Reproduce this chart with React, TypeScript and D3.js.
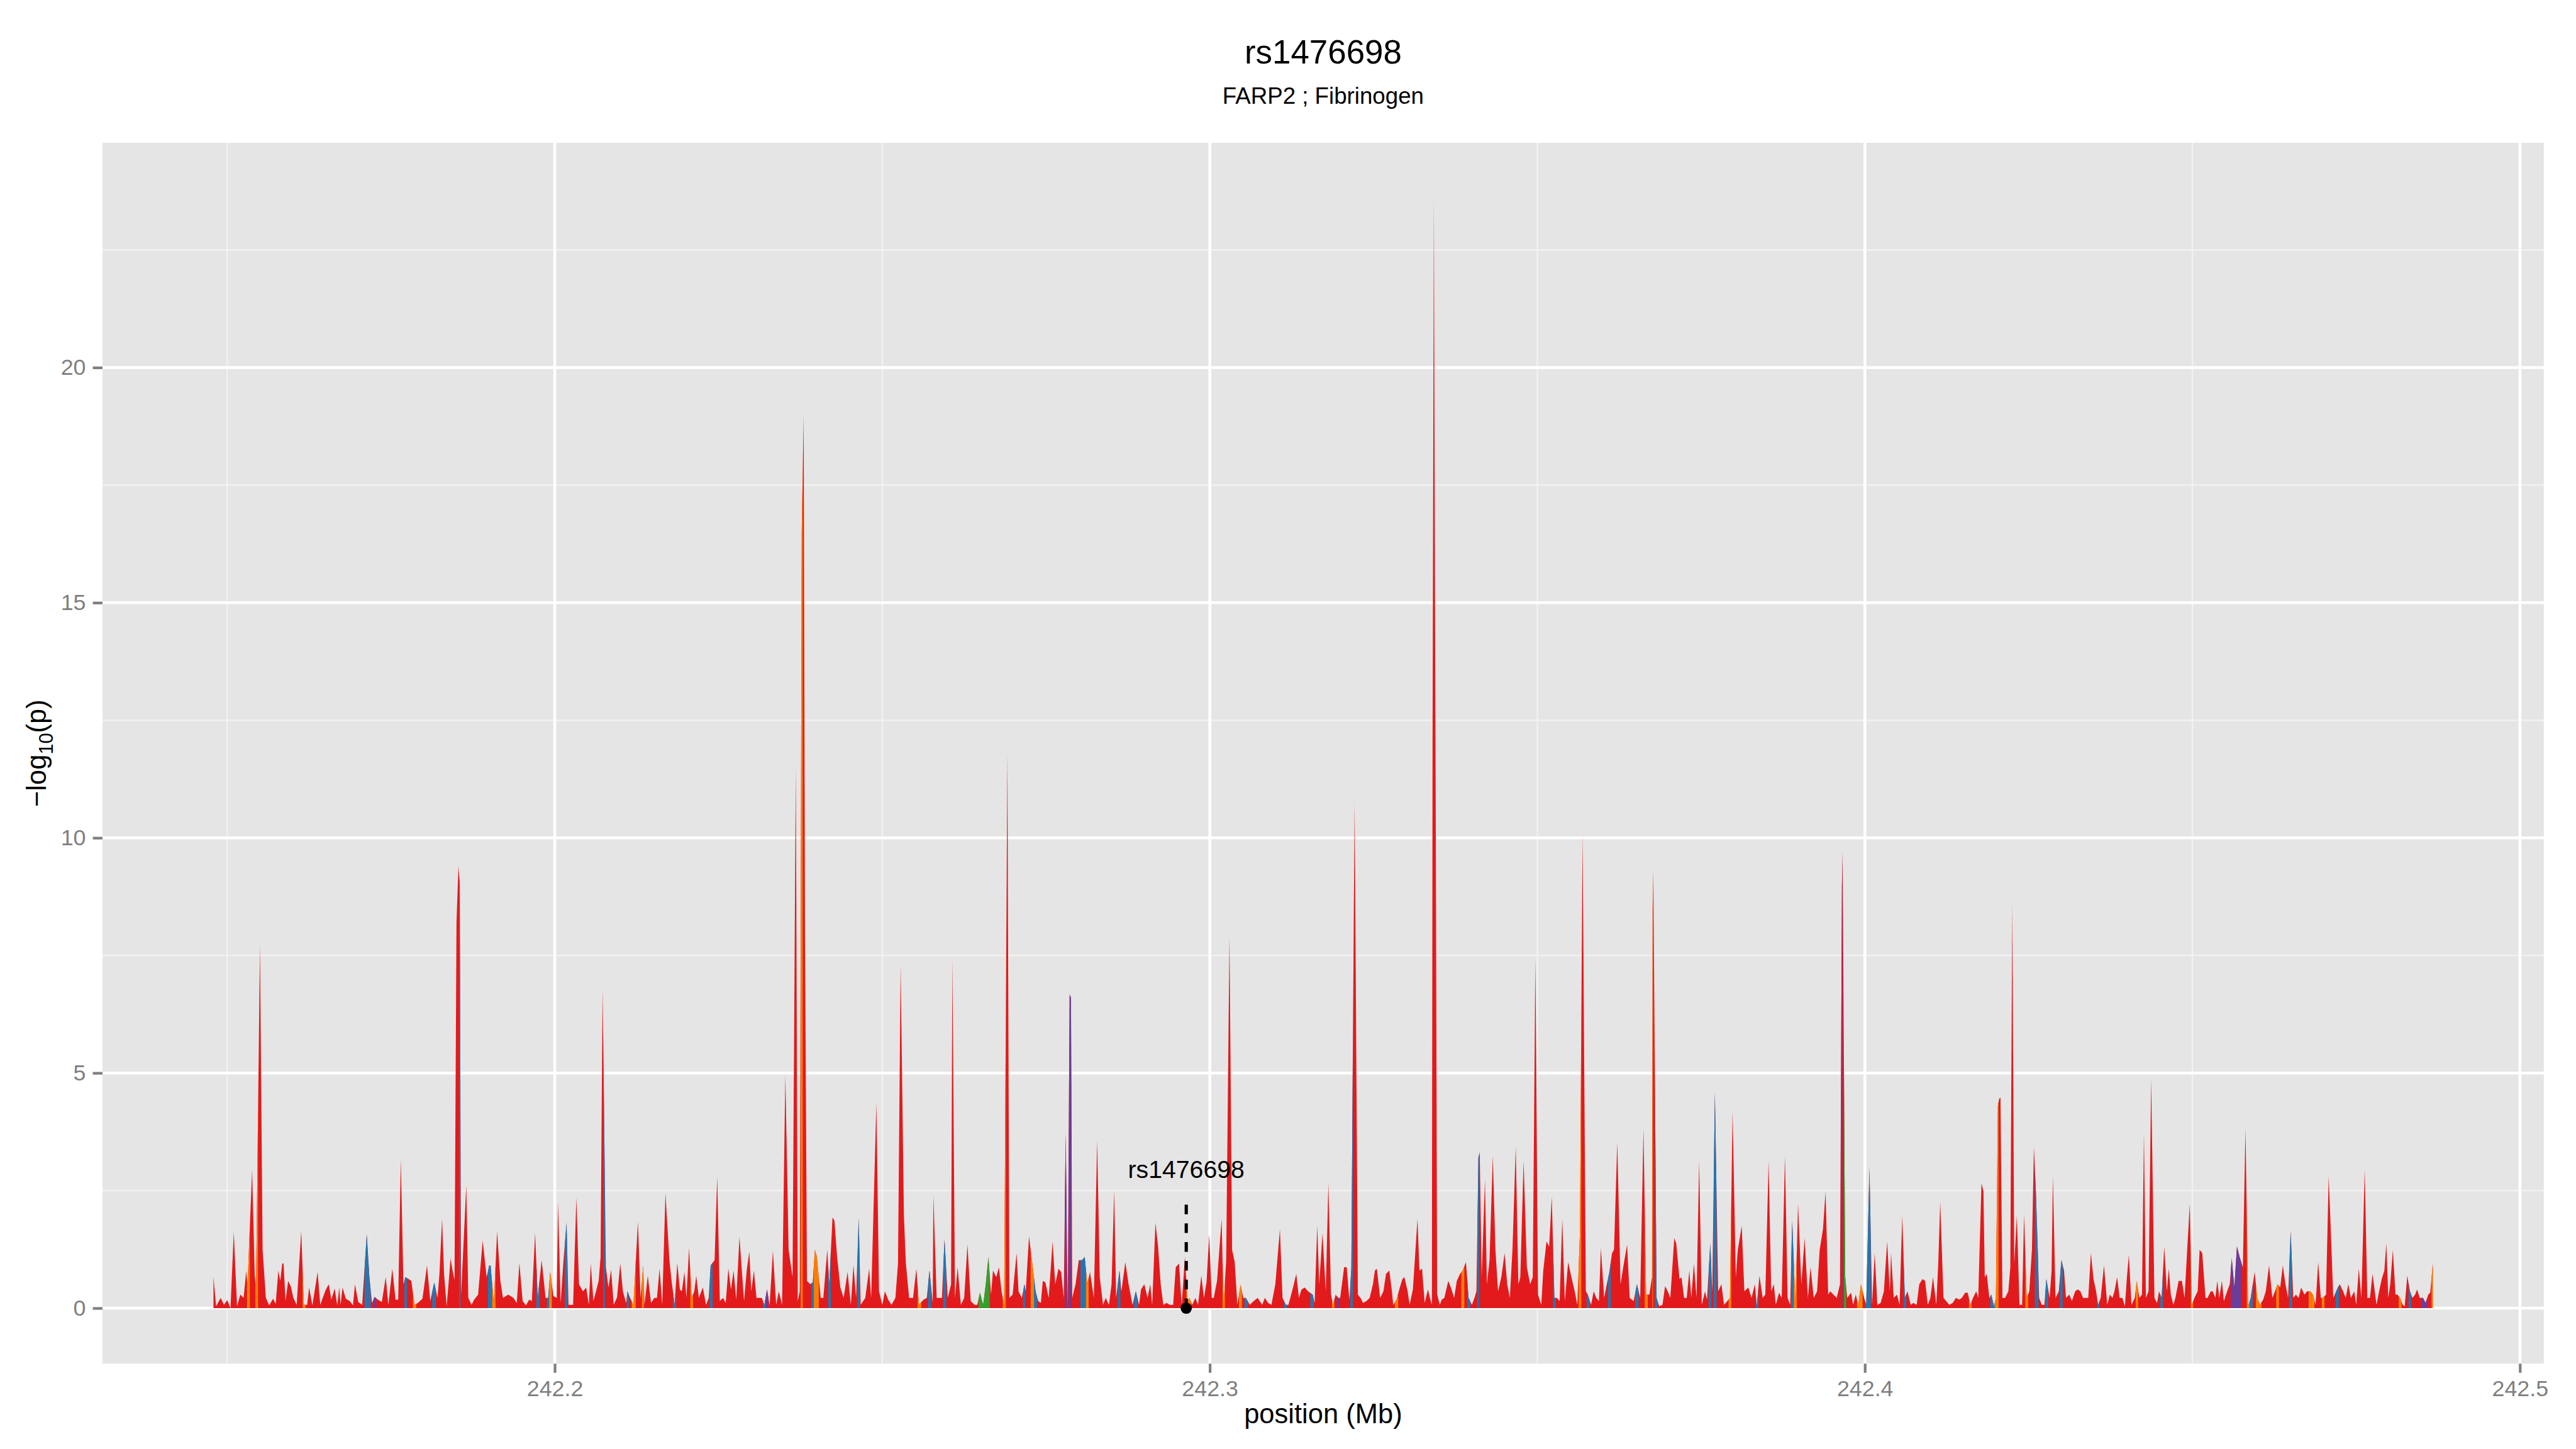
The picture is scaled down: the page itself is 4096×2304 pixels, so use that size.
import React, { useEffect, useRef } from 'react';
import * as d3 from 'd3';

// [position (Mb), -log10(p), class]; class defaults to "r"
type Snp = [number, number, string?];

const snpsA: Snp[] = [
  [242.1479, 0.67], [242.1483, 0.04], [242.1490, 0.22], [242.1495, 0.07], [242.1500, 0.17], [242.1505, 0.0],
  [242.1510, 1.62], [242.1515, 0.04], [242.1520, 0.29], [242.1525, 0.22], [242.1529, 0.79], [242.1531, 0.5, 'o'],
  [242.1538, 2.95], [242.1542, 0.7], [242.1544, 0.45, 'o'], [242.1550, 7.74], [242.1554, 1.24], [242.1559, 0.22],
  [242.1564, 0.06], [242.1570, 0.2], [242.1574, 0.09], [242.1578, 0.8], [242.1581, 0.58], [242.1584, 0.95],
  [242.1586, 0.95], [242.1589, 0.15], [242.1593, 0.58], [242.1597, 0.47], [242.1601, 0.22], [242.1606, 0.07],
  [242.1613, 1.64], [242.1617, 0.07, 'o'], [242.1622, 0.07], [242.1625, 0.44], [242.1630, 0.06], [242.1638, 0.77],
  [242.1642, 0.07], [242.1650, 0.38], [242.1655, 0.51], [242.1659, 0.18], [242.1664, 0.42], [242.1668, 0.06],
  [242.1671, 0.44], [242.1673, 0.07], [242.1676, 0.44], [242.1681, 0.2], [242.1687, 0.15], [242.1692, 0.06],
  [242.1695, 0.51], [242.1700, 0.13], [242.1706, 0.07], [242.1713, 1.57, 'b'], [242.1717, 0.66, 'b'], [242.1721, 0.11],
  [242.1725, 0.24, 'p'], [242.1730, 0.18], [242.1736, 0.13], [242.1742, 0.66], [242.1746, 0.07], [242.1752, 0.84],
  [242.1757, 0.18], [242.1761, 0.18], [242.1765, 3.17], [242.1769, 0.51], [242.1772, 0.66, 'b'], [242.1777, 0.62],
  [242.1781, 0.58], [242.1786, 0.07, 'o'], [242.1791, 0.11], [242.1798, 0.2], [242.1805, 0.91], [242.1810, 0.15],
  [242.1816, 0.55, 'b'], [242.1821, 0.22], [242.1824, 0.73], [242.1828, 1.9], [242.1831, 0.73], [242.1835, 0.04],
  [242.1841, 1.06], [242.1844, 0.8], [242.1847, 0.6], [242.1850, 8.2], [242.1853, 9.4], [242.1855, 9.0, 'b'],
  [242.1857, 0.29], [242.1865, 2.62], [242.1868, 0.22], [242.1873, 0.07], [242.1877, 0.18], [242.1883, 0.29],
  [242.1890, 1.44], [242.1896, 0.66], [242.1900, 0.91, 'b'], [242.1902, 0.91, 'b'], [242.1907, 0.11, 'o'], [242.1912, 1.64],
  [242.1917, 0.58], [242.1921, 0.22], [242.1929, 0.29], [242.1937, 0.22], [242.1942, 0.11], [242.1946, 0.96],
  [242.1951, 0.15], [242.1956, 0.06], [242.1961, 0.18], [242.1965, 0.15], [242.1970, 1.6], [242.1974, 0.22, 'b'],
  [242.1980, 1.02], [242.1986, 0.22], [242.1990, 0.22, 'b'], [242.1993, 0.77, 'o'], [242.1998, 0.26], [242.2003, 0.22],
  [242.2005, 2.26], [242.2009, 0.11], [242.2013, 0.95], [242.2018, 1.82, 'b'], [242.2021, 0.07], [242.2028, 0.07],
  [242.2033, 2.35], [242.2037, 0.51], [242.2043, 0.36], [242.2048, 0.44], [242.2052, 0.07], [242.2055, 0.95],
  [242.2059, 0.15], [242.2063, 0.36], [242.2067, 0.58], [242.2070, 1.09], [242.2073, 6.78], [242.2075, 4.5, 'b'],
  [242.2078, 0.87], [242.2082, 0.44], [242.2086, 0.82], [242.2090, 0.07], [242.2095, 0.23], [242.2100, 0.95],
  [242.2104, 0.36], [242.2109, 0.11], [242.2111, 0.36, 'b'], [242.2115, 0.22], [242.2120, 0.07, 'o'], [242.2127, 1.84],
  [242.2131, 0.22], [242.2135, 0.91, 'o'], [242.2137, 0.07], [242.2142, 0.69], [242.2147, 0.11], [242.2152, 0.22],
  [242.2156, 0.22], [242.2160, 0.84], [242.2164, 0.07], [242.2169, 2.44], [242.2175, 1.02], [242.2178, 0.62],
  [242.2183, 0.07, 'b'], [242.2187, 0.96], [242.2191, 0.4], [242.2194, 0.36], [242.2198, 0.77], [242.2201, 0.22],
  [242.2205, 1.28], [242.2209, 0.22, 'o'], [242.2213, 0.36], [242.2216, 0.69], [242.2220, 0.22], [242.2226, 0.44],
  [242.2231, 0.07], [242.2235, 0.22], [242.2238, 0.91, 'b'], [242.2244, 1.02], [242.2248, 2.8], [242.2252, 0.15],
  [242.2257, 0.22], [242.2261, 0.11], [242.2265, 0.84], [242.2269, 0.4], [242.2273, 0.8], [242.2277, 0.18],
  [242.2282, 1.52], [242.2285, 0.91], [242.2289, 0.15], [242.2293, 0.8], [242.2297, 1.2], [242.2300, 0.36],
  [242.2304, 0.8], [242.2308, 0.22], [242.2312, 0.22], [242.2316, 0.22], [242.2320, 0.07, 'b'], [242.2324, 0.4, 'p'],
  [242.2328, 0.06], [242.2333, 1.22], [242.2338, 0.07], [242.2342, 0.36], [242.2347, 0.07], [242.2352, 4.96],
  [242.2357, 1.24], [242.2363, 0.66], [242.2368, 11.5], [242.2371, 0.15], [242.2374, 0.36],
  [242.2377, 16.5, 'o'], [242.2380, 19.0], [242.2382, 8.0],
];

const snpsB: Snp[] = [
  [242.2385, 0.58], [242.2390, 0.51], [242.2394, 0.55, 'b'], [242.2397, 1.24, 'o'], [242.2400, 1.1, 'o'], [242.2406, 0.22],
  [242.2410, 0.22], [242.2416, 1.24], [242.2419, 0.51, 'b'], [242.2424, 1.93], [242.2427, 1.86], [242.2431, 1.09],
  [242.2436, 0.44], [242.2441, 0.22], [242.2447, 0.77], [242.2452, 0.07], [242.2456, 0.91], [242.2460, 0.22],
  [242.2464, 1.91, 'b'], [242.2467, 0.07], [242.2474, 0.22], [242.2480, 0.84], [242.2483, 0.22], [242.2491, 4.37],
  [242.2495, 0.36], [242.2500, 0.07], [242.2504, 0.36], [242.2509, 0.18], [242.2514, 0.07], [242.2520, 0.22],
  [242.2524, 0.95], [242.2528, 7.29], [242.2533, 1.97], [242.2536, 0.95], [242.2541, 0.22], [242.2547, 0.22],
  [242.2552, 0.84], [242.2556, 0.07, 'o'], [242.2563, 0.18], [242.2568, 0.22], [242.2572, 0.8, 'b'], [242.2577, 0.11],
  [242.2578, 2.41], [242.2583, 0.22], [242.2588, 0.22], [242.2591, 0.22], [242.2595, 1.46, 'b'], [242.2600, 0.22],
  [242.2605, 0.51], [242.2607, 7.43], [242.2611, 0.22], [242.2615, 0.87], [242.2620, 0.07], [242.2625, 0.22],
  [242.2630, 1.35], [242.2635, 0.15], [242.2641, 0.07], [242.2645, 0.07], [242.2649, 0.33, 'g'], [242.2654, 0.07, 'g'],
  [242.2658, 0.51, 'g'], [242.2662, 1.09, 'g'], [242.2666, 0.29], [242.2669, 0.8], [242.2674, 0.66], [242.2678, 0.87],
  [242.2682, 0.36], [242.2686, 0.07, 'o'], [242.2691, 11.8], [242.2694, 0.22], [242.2699, 0.29], [242.2705, 1.17],
  [242.2708, 0.36], [242.2713, 0.22], [242.2717, 0.51, 'b'], [242.2719, 0.36], [242.2724, 1.53], [242.2729, 0.95, 'o'],
  [242.2734, 0.36, 'b'], [242.2738, 0.15], [242.2742, 0.11], [242.2745, 0.58], [242.2749, 0.55], [242.2754, 0.22],
  [242.2760, 1.42], [242.2764, 0.51], [242.2769, 0.84], [242.2773, 0.77], [242.2777, 0.22], [242.2780, 3.72, 'p'],
  [242.2783, 0.04], [242.2786, 6.67, 'p'], [242.2788, 6.6, 'p'], [242.2790, 0.22], [242.2795, 0.51], [242.2800, 1.02],
  [242.2805, 1.02, 'b'], [242.2809, 1.09, 'b'], [242.2813, 0.51, 'o'], [242.2817, 0.77], [242.2823, 0.22], [242.2828, 3.57],
  [242.2832, 0.66], [242.2837, 0.07], [242.2841, 0.22], [242.2846, 0.07], [242.2850, 0.51], [242.2854, 2.51],
  [242.2857, 0.22], [242.2862, 0.8, 'b'], [242.2865, 0.36], [242.2871, 0.98], [242.2876, 0.51], [242.2882, 0.07],
  [242.2887, 0.36, 'b'], [242.2892, 0.07], [242.2895, 0.4], [242.2900, 0.51], [242.2905, 0.22], [242.2909, 0.51],
  [242.2912, 0.07], [242.2917, 1.82], [242.2921, 1.31], [242.2925, 0.51], [242.2929, 0.07], [242.2934, 0.11],
  [242.2939, 0.07], [242.2944, 0.07], [242.2948, 0.87], [242.2953, 0.95], [242.2957, 0.07], [242.2962, 1.09],
  [242.2966, 0.15, 'o'], [242.2969, 0.22, 'o'], [242.2973, 0.07], [242.2978, 0.22], [242.2982, 0.07], [242.2987, 0.69],
  [242.2991, 0.22], [242.2995, 0.55], [242.2999, 1.57], [242.3003, 0.22], [242.3006, 0.22], [242.3011, 0.58],
  [242.3018, 1.9], [242.3021, 0.07, 'o'], [242.3025, 1.02], [242.3030, 7.91], [242.3034, 1.24], [242.3038, 0.98],
  [242.3042, 0.07], [242.3047, 0.5, 'o'], [242.3051, 0.22], [242.3055, 0.22, 'b'], [242.3061, 0.07], [242.3067, 0.15],
  [242.3073, 0.22], [242.3080, 0.07], [242.3084, 0.22], [242.3089, 0.11], [242.3094, 0.07], [242.3100, 0.51],
  [242.3107, 1.68], [242.3111, 0.22], [242.3116, 0.07, 'b'], [242.3120, 0.07], [242.3127, 0.44], [242.3132, 0.73],
  [242.3136, 0.22], [242.3140, 0.4], [242.3145, 0.44], [242.3150, 0.36], [242.3157, 0.29, 'b'], [242.3160, 0.11],
  [242.3164, 1.75], [242.3167, 0.51], [242.3172, 1.6], [242.3177, 0.36], [242.3181, 2.66], [242.3185, 0.29],
  [242.3188, 0.07, 'o'], [242.3192, 0.29], [242.3196, 0.22, 'p'], [242.3199, 0.22], [242.3205, 0.87], [242.3209, 0.87],
  [242.3213, 0.18], [242.3216, 0.84, 'b'], [242.3221, 10.75], [242.3226, 0.29], [242.3230, 0.22], [242.3234, 0.11],
  [242.3239, 0.15], [242.3244, 0.22], [242.3249, 0.51], [242.3252, 0.8], [242.3255, 0.84], [242.3260, 0.22],
  [242.3265, 0.36], [242.3269, 0.73], [242.3274, 0.8], [242.3278, 0.36],
];

const snpsC: Snp[] = [
  [242.3280, 0.07], [242.3285, 0.18, 'o'], [242.3290, 0.44], [242.3294, 0.62], [242.3297, 0.66], [242.3302, 0.36],
  [242.3305, 0.07], [242.3310, 0.4], [242.3317, 1.9], [242.3320, 0.8], [242.3324, 0.84], [242.3328, 0.11],
  [242.3333, 0.4], [242.3336, 0.22], [242.3339, 0.07], [242.3340, 12.0], [242.3342, 23.6], [242.3344, 14.0],
  [242.3345, 10.0], [242.3347, 0.3], [242.3351, 0.07], [242.3354, 0.18], [242.3358, 0.22], [242.3364, 0.58],
  [242.3368, 0.44], [242.3373, 0.22], [242.3377, 0.58], [242.3382, 0.73], [242.3386, 0.8, 'o'], [242.3391, 0.98],
  [242.3395, 0.22, 'b'], [242.3400, 0.07], [242.3404, 0.22], [242.3407, 0.36], [242.3410, 3.2, 'b'], [242.3412, 3.32],
  [242.3415, 0.66], [242.3420, 2.73], [242.3423, 0.51], [242.3427, 1.02], [242.3432, 3.24], [242.3436, 1.24],
  [242.3440, 0.36], [242.3445, 0.66], [242.3450, 1.17], [242.3454, 0.51], [242.3458, 0.22], [242.3462, 1.24],
  [242.3467, 3.43], [242.3471, 0.51], [242.3474, 0.66], [242.3479, 3.13], [242.3484, 0.87], [242.3489, 0.51],
  [242.3493, 0.66], [242.3497, 7.43], [242.3501, 0.29], [242.3506, 0.07], [242.3509, 0.8], [242.3514, 1.42],
  [242.3518, 1.31], [242.3522, 2.37], [242.3526, 0.22, 'b'], [242.3530, 0.22], [242.3534, 0.15], [242.3538, 1.9],
  [242.3542, 0.15], [242.3547, 0.98], [242.3552, 0.66], [242.3557, 0.36], [242.3561, 0.07], [242.3565, 1.6, 'o'],
  [242.3569, 10.1], [242.3574, 0.36], [242.3577, 0.29, 'b'], [242.3582, 0.07], [242.3586, 0.36], [242.3590, 0.22],
  [242.3594, 0.15], [242.3597, 1.28], [242.3602, 0.22], [242.3606, 0.51], [242.3610, 0.77, 'b'], [242.3614, 1.17],
  [242.3617, 1.24], [242.3622, 3.53], [242.3627, 0.51], [242.3632, 0.95], [242.3637, 1.35], [242.3641, 0.22],
  [242.3647, 0.15], [242.3652, 0.51, 'b'], [242.3657, 0.22], [242.3662, 3.83], [242.3666, 0.29, 'o'], [242.3671, 0.29],
  [242.3675, 0.66], [242.3676, 8.5, 'o'], [242.3677, 9.29], [242.3682, 0.22, 'b'], [242.3686, 0.04], [242.3691, 0.07],
  [242.3695, 0.47], [242.3699, 0.36], [242.3703, 0.22], [242.3709, 1.49], [242.3712, 1.38], [242.3717, 0.62],
  [242.3720, 0.66], [242.3724, 0.22], [242.3728, 0.22], [242.3732, 0.8], [242.3735, 0.22], [242.3739, 0.95],
  [242.3743, 0.22], [242.3747, 3.13], [242.3751, 0.07], [242.3756, 0.36], [242.3759, 0.18], [242.3764, 1.38, 'b'],
  [242.3767, 0.36], [242.3771, 4.59, 'b'], [242.3776, 0.36], [242.3781, 0.51], [242.3785, 0.07], [242.3790, 0.15],
  [242.3794, 0.22, 'o'], [242.3798, 4.19], [242.3803, 0.66], [242.3806, 1.24], [242.3812, 1.75], [242.3816, 0.36],
  [242.3822, 0.44], [242.3827, 0.22], [242.3832, 0.51], [242.3835, 0.04, 'b'], [242.3839, 0.69], [242.3844, 0.22],
  [242.3848, 0.29], [242.3853, 3.13], [242.3857, 0.36], [242.3861, 0.51], [242.3864, 0.07], [242.3869, 0.33],
  [242.3873, 0.22], [242.3878, 3.24], [242.3882, 0.22], [242.3886, 0.07], [242.3889, 1.86, 'b'], [242.3894, 0.07, 'o'],
  [242.3898, 2.22], [242.3903, 0.51], [242.3908, 1.49], [242.3913, 0.22], [242.3917, 0.87], [242.3922, 0.22],
  [242.3927, 0.36], [242.3931, 1.24], [242.3936, 1.68], [242.3940, 2.48], [242.3944, 0.29], [242.3947, 0.36],
  [242.3952, 0.29], [242.3957, 0.22], [242.3962, 0.51], [242.3965, 9.0, 'p'], [242.3966, 9.69], [242.3970, 0.66, 'g'],
  [242.3973, 0.22], [242.3979, 0.33], [242.3982, 0.07], [242.3986, 0.29], [242.3990, 0.07, 'o'], [242.3994, 0.51, 'o'],
  [242.3999, 0.22], [242.4002, 0.07, 'b'], [242.4007, 2.99, 'b'], [242.4011, 0.07], [242.4015, 1.17], [242.4019, 0.07],
  [242.4024, 0.11], [242.4029, 0.36], [242.4034, 1.42], [242.4038, 0.36], [242.4040, 1.17], [242.4044, 0.22],
  [242.4049, 0.29], [242.4053, 0.07], [242.4057, 1.97], [242.4061, 0.22, 'b'], [242.4065, 0.36], [242.4070, 0.07],
  [242.4074, 0.11], [242.4079, 0.07], [242.4083, 0.51], [242.4088, 0.62], [242.4092, 0.58], [242.4096, 0.07],
  [242.4100, 0.22], [242.4104, 0.66], [242.4109, 0.07], [242.4112, 0.95], [242.4115, 2.26], [242.4120, 0.22],
  [242.4124, 0.15], [242.4129, 0.07], [242.4134, 0.11], [242.4139, 0.22], [242.4144, 0.18], [242.4148, 0.22],
  [242.4153, 0.33], [242.4157, 0.33], [242.4161, 0.07, 'o'], [242.4165, 0.22], [242.4170, 0.36], [242.4173, 0.22],
  [242.4178, 2.66],
];

const snpsD: Snp[] = [
  [242.4181, 2.48], [242.4183, 0.66], [242.4186, 0.73], [242.4190, 0.22], [242.4193, 0.29, 'b'], [242.4197, 0.04, 'b'],
  [242.4200, 0.22, 'o'], [242.4203, 4.3, 'o'], [242.4205, 4.45], [242.4207, 4.48], [242.4210, 0.22], [242.4214, 0.22],
  [242.4219, 0.36], [242.4222, 0.87], [242.4225, 8.6], [242.4228, 0.95], [242.4232, 1.97], [242.4236, 0.07],
  [242.4240, 0.07], [242.4243, 2.0], [242.4247, 0.22, 'o'], [242.4251, 0.36], [242.4255, 1.24], [242.4258, 3.43],
  [242.4261, 2.5, 'b'], [242.4264, 1.2, 'b'], [242.4266, 0.22], [242.4270, 0.07], [242.4274, 0.07], [242.4277, 0.62, 'b'],
  [242.4282, 0.22], [242.4285, 0.8], [242.4287, 2.81], [242.4291, 0.22], [242.4296, 0.36], [242.4300, 1.02, 'b'],
  [242.4304, 0.8], [242.4307, 0.22], [242.4312, 0.29], [242.4316, 0.15], [242.4321, 0.36], [242.4325, 0.4],
  [242.4329, 0.36], [242.4333, 0.22], [242.4338, 0.22], [242.4341, 0.22], [242.4345, 1.17], [242.4349, 0.62],
  [242.4353, 0.36], [242.4356, 0.07, 'b'], [242.4360, 0.22], [242.4365, 0.91], [242.4370, 0.07], [242.4374, 0.29],
  [242.4378, 0.22], [242.4381, 0.36], [242.4385, 0.66], [242.4389, 0.22], [242.4393, 0.22], [242.4397, 0.04],
  [242.4400, 0.66], [242.4403, 1.13], [242.4407, 0.07], [242.4412, 0.22], [242.4415, 0.58, 'o'], [242.4419, 0.22],
  [242.4423, 0.29], [242.4426, 3.72], [242.4429, 0.22], [242.4433, 0.36], [242.4437, 4.88], [242.4442, 0.22],
  [242.4446, 0.11], [242.4449, 0.36], [242.4453, 0.22, 'b'], [242.4457, 1.31], [242.4461, 0.36], [242.4464, 0.84],
  [242.4467, 0.29], [242.4471, 0.07], [242.4474, 0.22], [242.4479, 0.58], [242.4484, 0.58], [242.4488, 0.22],
  [242.4492, 1.24], [242.4496, 2.22], [242.4499, 0.07, 'o'], [242.4503, 0.22], [242.4508, 0.36], [242.4511, 1.24],
  [242.4515, 1.17], [242.4520, 0.22], [242.4523, 0.22], [242.4528, 0.36], [242.4531, 0.36], [242.4535, 0.22],
  [242.4538, 0.58], [242.4541, 0.22], [242.4545, 0.58], [242.4548, 0.15], [242.4553, 0.36], [242.4557, 0.51],
  [242.4560, 1.06, 'p'], [242.4564, 0.44, 'p'], [242.4568, 1.31, 'p'], [242.4572, 1.09, 'p'], [242.4577, 0.87], [242.4581, 3.83],
  [242.4585, 0.04, 'o'], [242.4589, 0.22, 'b'], [242.4595, 0.77], [242.4599, 0.22, 'o'], [242.4603, 0.07, 'o'], [242.4608, 0.18],
  [242.4612, 0.36], [242.4617, 0.91], [242.4622, 0.22], [242.4626, 0.36], [242.4630, 0.51, 'o'], [242.4634, 0.44],
  [242.4638, 0.91], [242.4642, 0.51], [242.4646, 0.22], [242.4650, 1.64, 'b'], [242.4654, 0.22], [242.4658, 0.29],
  [242.4662, 0.22], [242.4666, 0.44], [242.4671, 0.29], [242.4675, 0.36], [242.4680, 0.36, 'o'], [242.4684, 0.29, 'o'],
  [242.4688, 0.07], [242.4692, 0.98], [242.4696, 0.22], [242.4699, 0.22, 'o'], [242.4704, 0.29], [242.4708, 2.81],
  [242.4711, 1.75], [242.4715, 0.22], [242.4722, 0.44, 'b'], [242.4725, 0.51], [242.4730, 0.36], [242.4734, 0.22],
  [242.4738, 0.51], [242.4742, 0.22], [242.4747, 0.36], [242.4750, 0.07], [242.4754, 0.84], [242.4758, 0.22],
  [242.4763, 2.95], [242.4767, 0.22], [242.4771, 0.22], [242.4775, 0.73], [242.4781, 0.07], [242.4785, 0.36],
  [242.4789, 0.62], [242.4793, 0.8], [242.4796, 1.38], [242.4799, 0.22], [242.4802, 0.51], [242.4806, 1.24],
  [242.4810, 0.29], [242.4813, 0.29], [242.4817, 0.22, 'o'], [242.4821, 0.07], [242.4824, 0.04], [242.4828, 0.69],
  [242.4832, 0.36, 'b'], [242.4836, 0.22], [242.4840, 0.29], [242.4843, 0.4], [242.4847, 0.22], [242.4852, 0.22, 'p'],
  [242.4856, 0.11, 'p'], [242.4860, 0.29], [242.4863, 0.33], [242.4867, 0.95, 'o'],
];

const classColor: Record<string, string> = {
  r: '#E31A1C',
  b: '#1F78B4',
  p: '#6A3D9A',
  o: '#FF7F00',
  g: '#33A02C',
};

const titleText = 'rs1476698';
const subtitleText = 'FARP2 ; Fibrinogen';
const leadLabel = 'rs1476698';
const leadPos = 242.2964;
const leadLogP = 0;
const leadLineTop = 2.35;
const leadLabelAt = 2.95;

const xBreaks = [242.2, 242.3, 242.4, 242.5];
const xMinor = [242.15, 242.25, 242.35, 242.45];
const yBreaks = [0, 5, 10, 15, 20];
const yMinor = [2.5, 7.5, 12.5, 17.5, 22.5];

const FONT = '"Liberation Sans", Arial, Helvetica, sans-serif';

export default function App() {
  const ref = useRef<SVGSVGElement>(null);

  useEffect(() => {
    const svg = d3.select(ref.current);
    svg.selectAll('*').remove();

    const data = [...snpsA, ...snpsB, ...snpsC, ...snpsD].map(d => ({ pos: d[0], p: d[1], cls: d[2] || 'r' }));

    // panel, in reference pixels (viewBox 4800 x 2700)
    const left = 191, right = 4740, top = 266, bottom = 2541;

    const [x0, x1] = d3.extent(data, d => d.pos) as [number, number];
    const xpad = (x1 - x0) * 0.05;
    const x = d3.scaleLinear().domain([x0 - xpad, x1 + xpad]).range([left, right]);
    const ymax = d3.max(data, d => d.p) as number;
    const y = d3.scaleLinear().domain([-ymax * 0.05, ymax * 1.05]).range([bottom, top]);

    svg.append('rect')
      .attr('x', left).attr('y', top)
      .attr('width', right - left).attr('height', bottom - top)
      .attr('fill', '#E5E5E5');

    // grid
    const grid = svg.append('g');
    grid.selectAll('.ymin').data(yMinor).join('line')
      .attr('x1', left).attr('x2', right)
      .attr('y1', d => y(d)).attr('y2', d => y(d))
      .attr('stroke', '#F2F2F2').attr('stroke-width', 2.7);
    grid.selectAll('.xmin').data(xMinor).join('line')
      .attr('y1', top).attr('y2', bottom)
      .attr('x1', d => x(d)).attr('x2', d => x(d))
      .attr('stroke', '#F2F2F2').attr('stroke-width', 2.7);
    grid.selectAll('.ymaj').data(yBreaks).join('line')
      .attr('x1', left).attr('x2', right)
      .attr('y1', d => y(d)).attr('y2', d => y(d))
      .attr('stroke', '#FFFFFF').attr('stroke-width', 5.3);
    grid.selectAll('.xmaj').data(xBreaks).join('line')
      .attr('y1', top).attr('y2', bottom)
      .attr('x1', d => x(d)).attr('x2', d => x(d))
      .attr('stroke', '#FFFFFF').attr('stroke-width', 5.3);

    // area
    const area = d3.area<{ pos: number; p: number }>()
      .x(d => x(d.pos))
      .y0(y(0))
      .y1(d => y(d.p));

    const defs = svg.append('defs');
    svg.append('path')
      .datum(data)
      .attr('d', area)
      .attr('fill', classColor.r);

    // other classes: same area, clipped to each SNP's own cell
    ['b', 'o', 'p', 'g'].forEach(cls => {
      const clip = defs.append('clipPath').attr('id', 'clip-' + cls);
      data.forEach((d, i) => {
        if (d.cls !== cls) return;
        const xa = i > 0 ? (x(data[i - 1].pos) + x(d.pos)) / 2 : x(d.pos);
        const xb = i < data.length - 1 ? (x(d.pos) + x(data[i + 1].pos)) / 2 : x(d.pos) + 2;
        clip.append('rect')
          .attr('x', xa).attr('y', top)
          .attr('width', Math.max(xb - xa, 1)).attr('height', bottom - top);
      });
      svg.append('path')
        .datum(data)
        .attr('d', area)
        .attr('fill', classColor[cls])
        .attr('clip-path', `url(#clip-${cls})`);
    });

    // lead SNP marker
    svg.append('line')
      .attr('x1', x(leadPos)).attr('x2', x(leadPos))
      .attr('y1', y(leadLogP)).attr('y2', y(leadLineTop))
      .attr('stroke', '#000').attr('stroke-width', 6)
      .attr('stroke-dasharray', '18 17');
    svg.append('circle')
      .attr('cx', x(leadPos)).attr('cy', y(leadLogP)).attr('r', 10.5)
      .attr('fill', '#000');
    svg.append('text')
      .attr('x', x(leadPos)).attr('y', y(leadLabelAt))
      .attr('text-anchor', 'middle').attr('dominant-baseline', 'central')
      .attr('font-family', FONT).attr('font-size', 46).attr('fill', '#000')
      .text(leadLabel);

    // axes
    const xAxis = svg.append('g')
      .attr('transform', `translate(0,${bottom})`)
      .call(d3.axisBottom(x).tickValues(xBreaks).tickFormat(d3.format('.1f')).tickSize(17).tickPadding(14));
    const yAxis = svg.append('g')
      .attr('transform', `translate(${left},0)`)
      .call(d3.axisLeft(y).tickValues(yBreaks).tickFormat(d3.format('d')).tickSize(18).tickPadding(13));
    [xAxis, yAxis].forEach(g => {
      g.select('.domain').remove();
      g.selectAll('line').attr('stroke', '#7F7F7F').attr('stroke-width', 5);
      g.selectAll('text').attr('fill', '#7F7F7F').attr('font-size', 42).attr('font-family', FONT);
    });

    // titles
    const cx = (left + right) / 2;
    svg.append('text')
      .attr('x', cx).attr('y', 118).attr('text-anchor', 'middle')
      .attr('font-family', FONT).attr('font-size', 62).attr('fill', '#000')
      .text(titleText);
    svg.append('text')
      .attr('x', cx).attr('y', 193).attr('text-anchor', 'middle')
      .attr('font-family', FONT).attr('font-size', 43).attr('fill', '#000')
      .text(subtitleText);
    svg.append('text')
      .attr('x', cx).attr('y', 2652).attr('text-anchor', 'middle')
      .attr('font-family', FONT).attr('font-size', 51).attr('fill', '#000')
      .text('position (Mb)');

    const yt = svg.append('text')
      .attr('transform', `translate(86,${(top + bottom) / 2}) rotate(-90)`)
      .attr('text-anchor', 'middle')
      .attr('font-family', FONT).attr('font-size', 51).attr('fill', '#000');
    yt.append('tspan').text('\u2212log');
    yt.append('tspan').attr('font-size', 36).attr('dy', 12).text('10');
    yt.append('tspan').attr('dy', -12).text('(p)');
  }, []);

  return (
    <svg
      ref={ref}
      width={4096}
      height={2304}
      viewBox="0 0 4800 2700"
      style={{ position: 'absolute', left: 0, top: 0, background: '#fff' }}
    />
  );
}
